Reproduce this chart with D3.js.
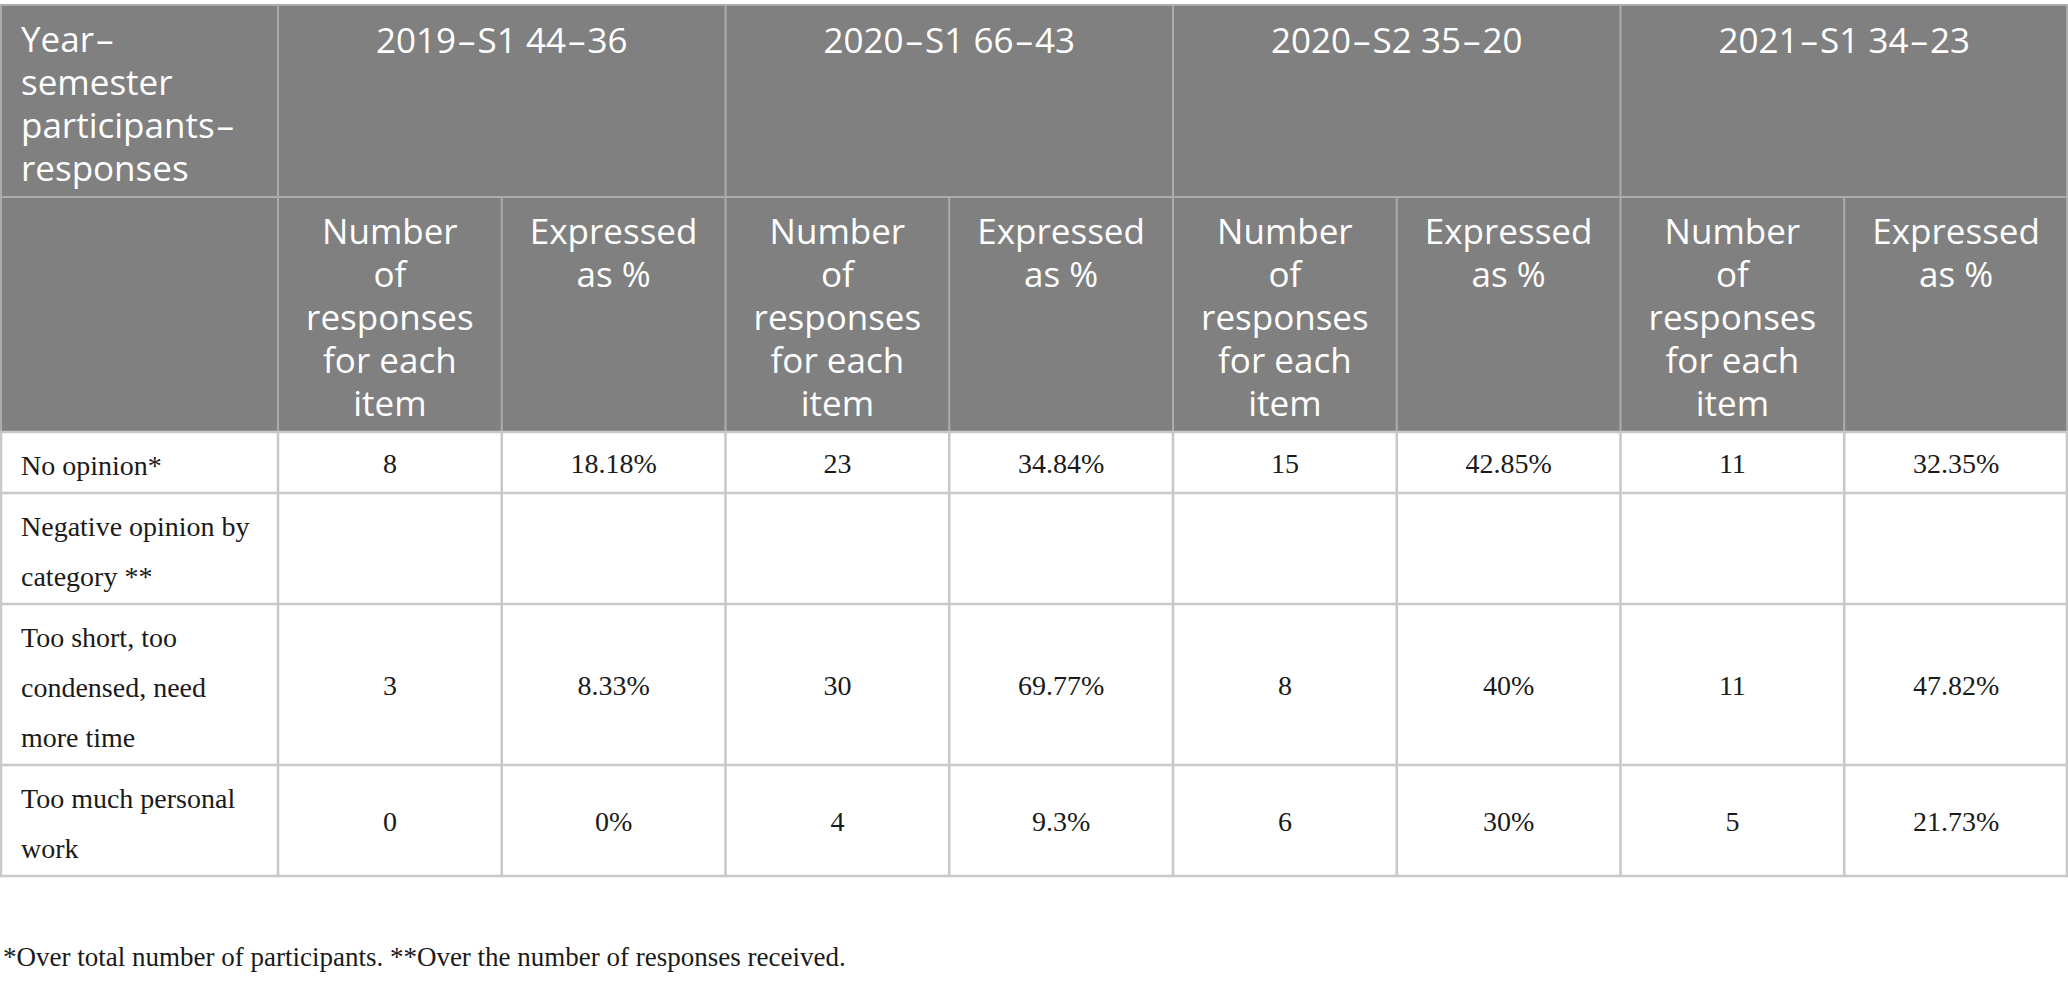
<!DOCTYPE html>
<html>
<head>
<meta charset="utf-8">
<script src="https://cdn.jsdelivr.net/npm/d3@7"></script>
<style>
body { margin: 0; background: #fff; }
</style>
</head>
<body>
<svg></svg>
<script>
const width = 2068;
const height = 983;

// table content
const groups = ['2019–S1 44–36', '2020–S1 66–43', '2020–S2 35–20', '2021–S1 34–23'];
const cornerLabel = ['Year–', 'semester', 'participants–', 'responses'];
const subHeads = [['Number', 'of', 'responses', 'for each', 'item'], ['Expressed', 'as %']];
const rowLabels = [
	['No opinion*'],
	['Negative opinion by', 'category **'],
	['Too short, too', 'condensed, need', 'more time'],
	['Too much personal', 'work']
];
const counts = [[8, 23, 15, 11], [null, null, null, null], [3, 30, 8, 11], [0, 4, 6, 5]];
const percents = [[18.18, 34.84, 42.85, 32.35], [null, null, null, null], [8.33, 69.77, 40, 47.82], [0, 9.3, 30, 21.73]];
const footnote = '*Over total number of participants. **Over the number of responses received.';

const svg = d3.select('svg')
	.attr('width', width)
	.attr('height', height);

const top0 = 5;
const labelW = 278;
const headLine = 43;
const bodyLine = 50;

const groupX = d3.scaleBand().domain(groups).range([labelW, width]);
const colX = d3.scaleBand().domain(d3.range(groups.length * 2)).range([labelW, width]);

// row heights come from the number of text lines
const head1H = 20 + headLine * cornerLabel.length;
const head2H = 20 + headLine * d3.max(subHeads, d => d.length);
const head2Top = top0 + head1H;
const bodyTop = head2Top + head2H;
const rowH = rowLabels.map(d => 11 + bodyLine * d.length);
const rowTops = rowH.map((h, i) => bodyTop + d3.sum(rowH.slice(0, i)));
const bodyBottom = bodyTop + d3.sum(rowH);

// header background
svg.append('rect')
	.attr('x', 0).attr('y', top0)
	.attr('width', width).attr('height', head1H + head2H)
	.attr('fill', '#808080');

const headGrid = svg.append('g').attr('stroke', '#ababab').attr('stroke-width', 2);
headGrid.append('line').attr('x1', 0).attr('x2', width).attr('y1', top0).attr('y2', top0);
headGrid.append('line').attr('x1', 0).attr('x2', width).attr('y1', head2Top).attr('y2', head2Top);
headGrid.selectAll('.gv').data([labelW].concat(groups.map(g => groupX(g) + groupX.bandwidth())))
	.enter().append('line')
	.attr('x1', d => Math.min(d, width - 1)).attr('x2', d => Math.min(d, width - 1))
	.attr('y1', top0).attr('y2', bodyTop);
headGrid.selectAll('.sv').data(groups.map(g => groupX(g) + colX.bandwidth()))
	.enter().append('line')
	.attr('x1', d => d).attr('x2', d => d)
	.attr('y1', head2Top).attr('y2', bodyTop);
headGrid.append('line').attr('x1', 1).attr('x2', 1).attr('y1', top0).attr('y2', bodyTop);

// body grid
const bodyGrid = svg.append('g').attr('stroke', '#c8c8c8').attr('stroke-width', 2.5);
bodyGrid.selectAll('.bh').data(rowTops.concat([bodyBottom]))
	.enter().append('line')
	.attr('x1', 0).attr('x2', width)
	.attr('y1', d => d).attr('y2', d => d);
bodyGrid.selectAll('.bv').data([1, labelW].concat(colX.domain().map(i => colX(i) + colX.bandwidth())))
	.enter().append('line')
	.attr('x1', d => Math.min(d, width - 1)).attr('x2', d => Math.min(d, width - 1))
	.attr('y1', bodyTop).attr('y2', bodyBottom);

// header text; the dashes in the source font run a little wider
function dashed(sel) {
	sel.each(function(d) {
		const t = d3.select(this);
		d.split('–').forEach((part, i) => {
			if (i > 0) t.append('tspan').attr('dx', 2).text('–');
			t.append('tspan').attr('dx', i > 0 ? 2 : 0).text(part);
		});
	});
}

const headText = svg.append('g')
	.attr('fill', '#fff')
	.attr('font-family', '"Open Sans", sans-serif')
	.attr('font-size', 35);

headText.selectAll('.corner').data(cornerLabel)
	.enter().append('text')
	.attr('x', 21)
	.attr('y', (d, i) => top0 + 47 + i * headLine)
	.call(dashed);

headText.selectAll('.group').data(groups)
	.enter().append('text')
	.attr('text-anchor', 'middle')
	.attr('x', d => groupX(d) + groupX.bandwidth() / 2)
	.attr('y', top0 + 48)
	.call(dashed);

colX.domain().forEach(i => {
	headText.selectAll('.sub' + i).data(subHeads[i % 2])
		.enter().append('text')
		.attr('text-anchor', 'middle')
		.attr('x', colX(i) + colX.bandwidth() / 2)
		.attr('y', (d, j) => head2Top + 47 + j * headLine)
		.text(d => d);
});

// body text
const bodyText = svg.append('g')
	.attr('fill', '#1a1a1a')
	.attr('font-family', '"Liberation Serif", serif')
	.attr('font-size', 28);

rowLabels.forEach((lines, r) => {
	bodyText.selectAll('.lab' + r).data(lines)
		.enter().append('text')
		.attr('x', 21)
		.attr('y', (d, j) => rowTops[r] + 43 + j * bodyLine)
		.text(d => d);

	const cells = [];
	groups.forEach((g, k) => {
		cells.push({ col: k * 2, v: counts[r][k] == null ? '' : counts[r][k] });
		cells.push({ col: k * 2 + 1, v: percents[r][k] == null ? '' : percents[r][k] + '%' });
	});
	bodyText.selectAll('.val' + r).data(cells)
		.enter().append('text')
		.attr('text-anchor', 'middle')
		.attr('x', d => colX(d.col) + colX.bandwidth() / 2)
		.attr('y', rowTops[r] + rowH[r] / 2 + 10)
		.text(d => d.v);
});

svg.append('text')
	.attr('x', 3)
	.attr('y', 966)
	.attr('fill', '#1a1a1a')
	.attr('font-family', '"Liberation Serif", serif')
	.attr('font-size', 27)
	.text(footnote);
</script>
</body>
</html>
